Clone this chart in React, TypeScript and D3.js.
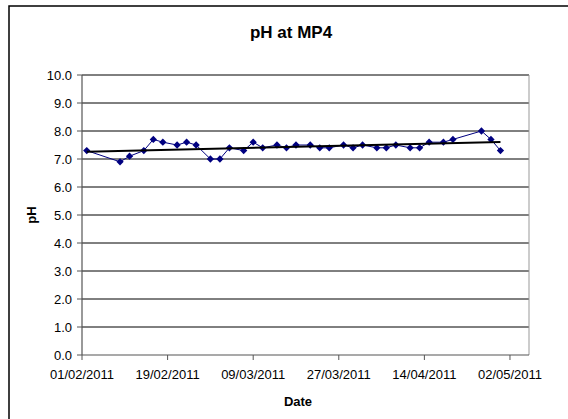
import React from 'react';
import * as d3 from 'd3';

const sampleDates = [
  '2011-02-02', '2011-02-09', '2011-02-11', '2011-02-14', '2011-02-16', '2011-02-18',
  '2011-02-21', '2011-02-23', '2011-02-25', '2011-02-28', '2011-03-02', '2011-03-04',
  '2011-03-07', '2011-03-09', '2011-03-11', '2011-03-14', '2011-03-16', '2011-03-18',
  '2011-03-21', '2011-03-23', '2011-03-25', '2011-03-28', '2011-03-30', '2011-04-01',
  '2011-04-04', '2011-04-06', '2011-04-08', '2011-04-11', '2011-04-13', '2011-04-15',
  '2011-04-18', '2011-04-20', '2011-04-26', '2011-04-28', '2011-04-30',
];

const phValues = [
  7.3, 6.9, 7.1, 7.3, 7.7, 7.6,
  7.5, 7.6, 7.5, 7.0, 7.0, 7.4,
  7.3, 7.6, 7.4, 7.5, 7.4, 7.5,
  7.5, 7.4, 7.4, 7.5, 7.4, 7.5,
  7.4, 7.4, 7.5, 7.4, 7.4, 7.6,
  7.6, 7.7, 8.0, 7.7, 7.3,
];

const xTickDates = ['2011-02-01', '2011-02-19', '2011-03-09', '2011-03-27', '2011-04-14', '2011-05-02'];
const yTicks = [0, 1, 2, 3, 4, 5, 6, 7, 8, 9, 10];

const W = 568;
const H = 419;
const plot = { left: 82, right: 529, top: 75, bottom: 355 };
const FONT = 'Liberation Sans, Arial, sans-serif';

const App: React.FC = () => {
  const parse = d3.utcParse('%Y-%m-%d');
  const fmt = d3.utcFormat('%d/%m/%Y');
  const data = sampleDates.map((d, i) => ({ date: parse(d) as Date, value: phValues[i] }));

  const x = d3.scaleUtc()
    .domain([parse('2011-02-01') as Date, parse('2011-05-06') as Date])
    .range([plot.left, plot.right]);
  const y = d3.scaleLinear().domain([0, 10]).range([plot.bottom, plot.top]);

  const line = d3.line<{ date: Date; value: number }>()
    .x(d => x(d.date))
    .y(d => y(d.value));

  // linear trendline (least squares on day number)
  const t0 = data[0].date.getTime();
  const xs = data.map(d => (d.date.getTime() - t0) / 864e5);
  const ys = data.map(d => d.value);
  const mx = d3.mean(xs) as number;
  const my = d3.mean(ys) as number;
  const slope = d3.sum(xs, (v, i) => (v - mx) * (ys[i] - my)) / d3.sum(xs, v => (v - mx) * (v - mx));
  const icpt = my - slope * mx;
  const lastX = xs[xs.length - 1];
  const trend = [
    { date: data[0].date, value: icpt },
    { date: data[data.length - 1].date, value: icpt + slope * lastX },
  ];

  const diamond = d3.symbol().type(d3.symbolDiamond2).size(34)();

  return (
    <svg width={W} height={H} style={{ position: 'absolute', left: 0, top: 0, background: '#fff' }} fontFamily={FONT}>
      <rect x={9} y={6} width={W} height={H} fill="#fff" stroke="#000" strokeWidth={1.5} />

      <text x={291} y={38} textAnchor="middle" fontSize={17} fontWeight="bold">pH at MP4</text>

      {/* gridlines */}
      {yTicks.filter(t => t > 0).map(t => (
        <line key={t} x1={plot.left} x2={plot.right} y1={y(t)} y2={y(t)} stroke="#000" strokeWidth={1} />
      ))}
      <line x1={plot.right} x2={plot.right} y1={plot.top} y2={plot.bottom} stroke="#999" strokeWidth={1} />

      {/* axes */}
      <line x1={plot.left} x2={plot.left} y1={plot.top} y2={plot.bottom} stroke="#555" strokeWidth={1.2} />
      <line x1={plot.left} x2={plot.right} y1={plot.bottom} y2={plot.bottom} stroke="#555" strokeWidth={1.2} />
      {yTicks.map(t => (
        <g key={t}>
          <line x1={plot.left - 5} x2={plot.left} y1={y(t)} y2={y(t)} stroke="#555" />
          <text x={72} y={y(t)} dy="0.35em" textAnchor="end" fontSize={13}>{t.toFixed(1)}</text>
        </g>
      ))}
      {xTickDates.map(d => {
        const dt = parse(d) as Date;
        return (
          <g key={d}>
            <line x1={x(dt)} x2={x(dt)} y1={plot.bottom} y2={plot.bottom + 5} stroke="#555" />
            <text x={x(dt)} y={379} textAnchor="middle" fontSize={13}>{fmt(dt)}</text>
          </g>
        );
      })}

      <text x={298} y={406} textAnchor="middle" fontSize={13} fontWeight="bold">Date</text>
      <text transform={`translate(36,${(plot.top + plot.bottom) / 2}) rotate(-90)`} textAnchor="middle" fontSize={13} fontWeight="bold">pH</text>

      {/* series */}
      <path d={line(data) ?? ''} fill="none" stroke="#000080" strokeWidth={1} />
      {data.map((d, i) => (
        <path key={i} d={diamond ?? ''} transform={`translate(${x(d.date)},${y(d.value)})`} fill="#000080" />
      ))}
      <path d={line(trend) ?? ''} fill="none" stroke="#000" strokeWidth={2} />
    </svg>
  );
};

export default App;
